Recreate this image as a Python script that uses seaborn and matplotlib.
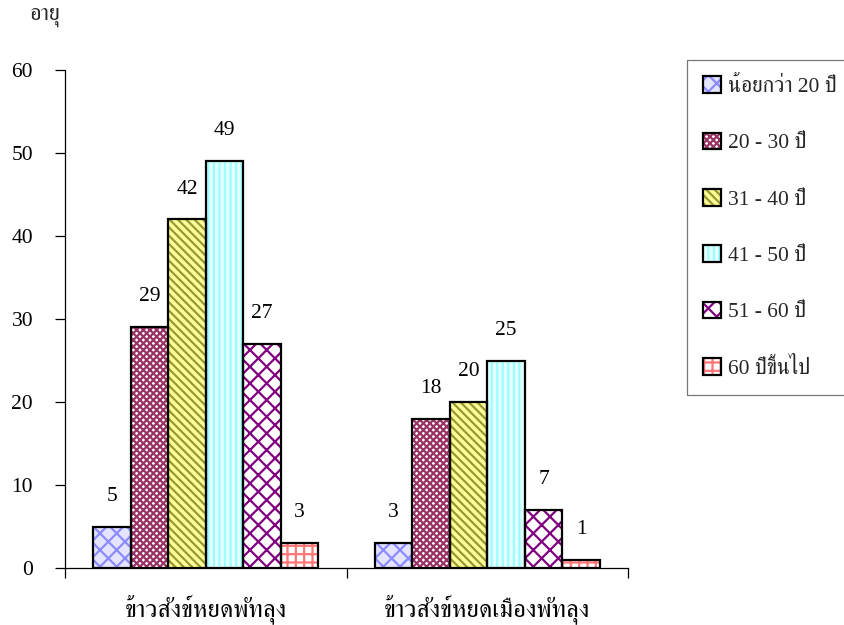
import matplotlib
matplotlib.use("Agg")
import matplotlib.pyplot as plt
import seaborn as sns
import pandas as pd
from matplotlib import font_manager as fm
from matplotlib.patches import Patch, Rectangle
from matplotlib.legend_handler import HandlerTuple

# ---------------- data ----------------
products = ["ข้าวสังข์หยดพัทลุง", "ข้าวสังข์หยดเมืองพัทลุง"]
age_groups = ["น้อยกว่า 20 ปี", "20 - 30 ปี", "31 - 40 ปี", "41 - 50 ปี", "51 - 60 ปี", "60 ปีขึ้นไป"]
values_prod1 = [5, 29, 42, 49, 27, 3]
values_prod2 = [3, 18, 20, 25, 7, 1]
y_ticks = [0, 10, 20, 30, 40, 50, 60]
y_label = "อายุ"

# ---------------- styles ----------------
face_colors = ["#E4E4FF", "#FFFFFF", "#FFFF99", "#E6FFFF", "#FFFFFF", "#FFFFFF"]
hatch_colors = ["#8C8CFF", "#993366", "#999933", "#99FFFF", "#800080", "#FF7777"]
hatches = ["xx", "xxxxx", "\\\\\\\\", "|||", "xx", "++"]

sns.set_theme(style="white")

# find a font with Thai glyphs
thai_family = None
try:
    from fontTools.ttLib import TTFont
    cands = []
    for f in fm.fontManager.ttflist:
        try:
            tt = TTFont(f.fname, fontNumber=0, lazy=True)
            cmap = tt.getBestCmap()
            if cmap and 0x0E2D in cmap and 0x0E01 in cmap:
                cands.append(f.name)
        except Exception:
            pass
    if cands:
        pref = [c for c in cands if "Serif" in c] or cands
        thai_family = sorted(pref)[0]
except Exception:
    pass

fams = ["Liberation Serif"] + ([thai_family] if thai_family else []) + ["DejaVu Sans"]
plt.rcParams["font.family"] = fams
plt.rcParams["hatch.linewidth"] = 1.6

df = pd.DataFrame({
    "product": [products[0]] * len(age_groups) + [products[1]] * len(age_groups),
    "age": age_groups * 2,
    "count": values_prod1 + values_prod2,
})

fig = plt.figure(figsize=(8.44, 6.25), dpi=100)
ax = fig.add_axes([65 / 844, 1 - 568 / 625, (628 - 65) / 844, (568 - 70) / 625])

sns.barplot(data=df, x="product", y="count", hue="age", order=products,
            hue_order=age_groups, palette=face_colors, saturation=1,
            errorbar=None, width=0.8, legend=False, ax=ax)

for i, cont in enumerate(ax.containers):
    for p in cont.patches:
        p.set_facecolor(face_colors[i])
        p.set_hatch(hatches[i])
        p.set_edgecolor(hatch_colors[i])
        p.set_linewidth(0)
        ax.add_patch(Rectangle(p.get_xy(), p.get_width(), p.get_height(),
                               fill=False, edgecolor="black", linewidth=1.6, zorder=3))
    ax.bar_label(cont, padding=15, fontsize=15.5, color="black")

ax.set_ylim(0, 60)
ax.set_xlim(-0.5, 1.5)
ax.set_yticks(y_ticks)
ax.set_xlabel("")
ax.set_ylabel("")
for s in ["top", "right"]:
    ax.spines[s].set_visible(False)
for s in ["left", "bottom"]:
    ax.spines[s].set_color("black")
    ax.spines[s].set_linewidth(0.9)
ax.tick_params(axis="y", which="major", left=True, direction="out", length=7,
               width=0.9, pad=16, labelsize=15.5, colors="black")
ax.tick_params(axis="x", which="major", bottom=False, pad=13, labelsize=18, colors="black")
ax.set_xticks([-0.5, 0.5, 1.5], minor=True)
ax.tick_params(axis="x", which="minor", bottom=True, direction="out", length=7,
               width=0.9, color="black")
ax.grid(False)

fig.text(45 / 844, 1 - 17 / 625, y_label, ha="center", va="center", fontsize=16)

handles = []
for i in range(len(age_groups)):
    h1 = Patch(facecolor=face_colors[i], hatch=hatches[i], edgecolor=hatch_colors[i], linewidth=0)
    h2 = Patch(facecolor="none", edgecolor="black", linewidth=1.6)
    handles.append((h1, h2))
leg = fig.legend(handles, age_groups, handler_map={tuple: HandlerTuple(ndivide=1, pad=0)},
                 loc="upper left", bbox_to_anchor=(687 / 844, 1 - 60 / 625),
                 frameon=True, fancybox=False, fontsize=15.5, labelspacing=1.65,
                 handlelength=0.82, handleheight=0.82, handletextpad=0.35,
                 borderpad=0.75, borderaxespad=0)
leg.get_frame().set_edgecolor("#555555")
leg.get_frame().set_linewidth(0.9)

fig.savefig("out.png", dpi=100)
